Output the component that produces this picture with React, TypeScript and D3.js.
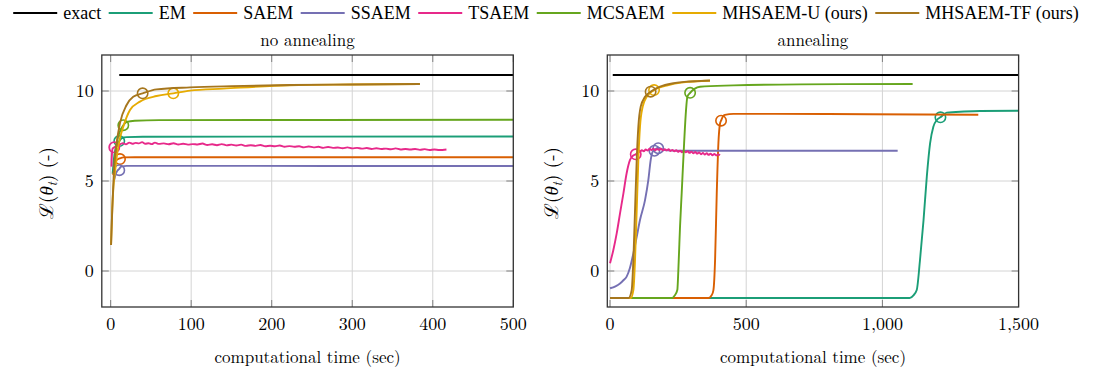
import React, { useEffect, useRef } from "react";
import * as d3 from "d3";

// ---------- series meta ----------
const seriesNames = ["exact", "EM", "SAEM", "SSAEM", "TSAEM", "MCSAEM", "MHSAEM-U (ours)", "MHSAEM-TF (ours)"];
const seriesColors = ["#000000", "#1b9e77", "#d95f02", "#7570b3", "#e7298a", "#66a61e", "#e6ab02", "#a6761d"];

const panelTitles = ["no annealing", "annealing"];
const xAxisLabel = "computational time (sec)";
const leftXTicks = [0, 100, 200, 300, 400, 500];
const rightXTicks = [0, 500, 1000, 1500];
const yTicks = [0, 5, 10];

// ---------- left panel (no annealing) ----------
const leftExact: [number, number][] = [[10.7, 10.89], [500, 10.89]];
const leftEM: [number, number][] = [[2.5, 5.4], [4, 6.2], [6, 6.8], [8, 7.05], [10.7, 7.22], [14, 7.38], [20, 7.44], [40, 7.46], [500, 7.47]];
const leftSAEM: [number, number][] = [[3.2, 5.33], [5, 5.8], [7.3, 6.15], [9.5, 6.22], [11.6, 6.26], [16, 6.31], [30, 6.32], [500, 6.32]];
const leftSSAEM: [number, number][] = [[4, 5.0], [6, 5.35], [8, 5.55], [10.7, 5.68], [13, 5.8], [20, 5.84], [500, 5.83]];
const leftTSAEM: [number, number][] = [
  [1, 5.8], [1.5, 6.4], [2.5, 6.8], [4.5, 6.87], [8, 6.98], [12, 7.05], [15, 7.1], [19, 7.04], [23, 7.13], [27, 7.07],
  [31, 7.12], [35, 7.09], [39, 7.16], [43, 7.07], [47, 7.1], [51, 7.05], [55, 7.13], [60, 7.06], [66, 7.09], [72, 7.04],
  [78, 7.1], [84, 7.03], [90, 7.07], [96, 7.02], [102, 7.05], [108, 7.03], [114, 7.08], [120, 7.0], [126, 7.04], [132, 6.99],
  [138, 7.05], [144, 6.98], [150, 7.02], [156, 6.97], [162, 7.02], [168, 6.95], [174, 6.99], [180, 6.95], [186, 7.0], [192, 6.93],
  [198, 6.96], [204, 6.93], [210, 6.97], [216, 6.9], [222, 6.94], [228, 6.9], [234, 6.93], [240, 6.87], [246, 6.92], [252, 6.87],
  [258, 6.9], [264, 6.84], [270, 6.89], [276, 6.84], [282, 6.86], [288, 6.82], [294, 6.87], [300, 6.81], [306, 6.84], [312, 6.8],
  [318, 6.83], [324, 6.78], [330, 6.82], [336, 6.78], [342, 6.8], [348, 6.76], [354, 6.81], [360, 6.75], [366, 6.78], [372, 6.75],
  [378, 6.78], [384, 6.73], [390, 6.77], [396, 6.72], [402, 6.75], [408, 6.72], [417, 6.75]
];
const leftMCSAEM: [number, number][] = [[5, 6.1], [8, 7.2], [12, 7.8], [15.7, 8.1], [20, 8.28], [30, 8.35], [60, 8.38], [500, 8.4]];
const leftMHU: [number, number][] = [
  [0.5, 1.45], [2, 3.5], [3.5, 4.7], [5.3, 5.45], [8, 6.5], [11.5, 7.37], [15.7, 8.02], [24, 8.94], [36.4, 9.41], [57, 9.72],
  [77.8, 9.87], [98.5, 10.02], [140, 10.13], [223, 10.32], [300, 10.36], [384, 10.39]
];
const leftMHTF: [number, number][] = [
  [0.5, 1.44], [1.5, 2.8], [2.5, 3.94], [4.1, 5.6], [7.4, 7.09], [11.5, 8.2], [19.8, 9.22], [28, 9.68], [39.7, 9.87], [57, 10.09],
  [98.5, 10.2], [150, 10.27], [223, 10.33], [300, 10.36], [384, 10.39]
];
const leftSeries = [leftExact, leftEM, leftSAEM, leftSSAEM, leftTSAEM, leftMCSAEM, leftMHU, leftMHTF];
// [series index, x, y]
const leftMarkers: [number, number, number][] = [
  [1, 10.7, 7.22], [2, 11.6, 6.22], [3, 10.7, 5.6], [4, 4.5, 6.87], [5, 15.7, 8.1], [6, 77.8, 9.87], [7, 39.7, 9.87]
];

// ---------- right panel (annealing) ----------
const rightExact: [number, number][] = [[10, 10.89], [1500, 10.89]];
const rightEM: [number, number][] = [
  [0, -1.5], [1100, -1.5], [1114, -1.35], [1126, -1.06], [1138, 0.61], [1151, 2.83], [1163, 5.24], [1175, 7.09], [1187, 8.02],
  [1200, 8.39], [1213, 8.54], [1236, 8.8], [1300, 8.86], [1359, 8.89], [1500, 8.9]
];
const rightSAEM: [number, number][] = [
  [0, -1.5], [362, -1.5], [373, -1.35], [379.6, -1.06], [385.7, 0.61], [391.8, 4.3], [397.9, 7.1], [404, 8.2], [407.6, 8.35],
  [415, 8.6], [422, 8.67], [453, 8.73], [800, 8.72], [1352, 8.68]
];
const rightSSAEM: [number, number][] = [
  [0, -0.96], [20, -0.85], [36.7, -0.69], [50, -0.5], [61, -0.31], [73, 0.17], [85.7, 0.98], [98, 1.9], [110, 2.83], [128.5, 3.94],
  [140.7, 5.06], [149.4, 6.17], [156.7, 6.63], [163, 6.72], [170, 6.8], [177, 6.85], [190, 6.77], [208, 6.7], [250, 6.68], [1056, 6.68]
];
const rightTSAEM: [number, number][] = [
  [0, 0.43], [12.2, 1.17], [24.5, 2.09], [36.7, 3.2], [49, 4.3], [61, 5.43], [73.4, 6.17], [84, 6.4], [94.4, 6.48], [102, 6.58],
  [110, 6.63], [117, 6.71], [124, 6.65], [131, 6.75], [138, 6.69], [145, 6.79], [152, 6.72], [159, 6.8], [166, 6.71], [173, 6.78],
  [180, 6.73], [187, 6.8], [194, 6.7], [201, 6.77], [208, 6.7], [215, 6.76], [222, 6.67], [229, 6.73], [236, 6.65], [243, 6.71],
  [250, 6.62], [257, 6.69], [264, 6.6], [271, 6.67], [278, 6.59], [285, 6.65], [292, 6.56], [299, 6.63], [306, 6.54], [313, 6.61],
  [320, 6.52], [327, 6.59], [334, 6.49], [341, 6.56], [348, 6.47], [355, 6.54], [362, 6.45], [369, 6.52], [376, 6.43], [383, 6.5],
  [390, 6.42], [397, 6.48], [404, 6.44]
];
const rightMCSAEM: [number, number][] = [
  [0, -1.5], [228, -1.5], [238, -1.35], [247, -1.06], [252, 0.5], [257, 2.46], [263, 4.3], [272, 7.1], [279, 8.94], [284, 9.68],
  [294, 9.9], [310, 10.12], [330.5, 10.24], [453, 10.31], [698, 10.37], [1111, 10.39]
];
const rightMHU: [number, number][] = [
  [0, -1.5], [76, -1.5], [85.7, -1.06], [91.8, 0.61], [98, 3.39], [104, 6.17], [110, 8.02], [120, 9.13], [134.7, 9.68],
  [161.6, 10.05], [208, 10.3], [269, 10.48], [367, 10.57]
];
const rightMHTF: [number, number][] = [
  [0, -1.5], [68, -1.5], [79.5, -1.06], [85.7, 0.61], [91.8, 3.39], [98, 6.17], [104, 8.02], [112.6, 9.13], [128.5, 9.68],
  [149, 9.96], [183.6, 10.24], [232.6, 10.43], [281.7, 10.52], [320, 10.55], [367, 10.58]
];
const rightSeries = [rightExact, rightEM, rightSAEM, rightSSAEM, rightTSAEM, rightMCSAEM, rightMHU, rightMHTF];
const rightMarkers: [number, number, number][] = [
  [1, 1213, 8.54], [2, 407.6, 8.35], [3, 163, 6.68], [3, 177, 6.82], [4, 94.4, 6.48], [5, 294, 9.9], [6, 161.6, 10.05], [7, 149, 9.96]
];

const FONT_CM = '"Latin Modern Roman", "Liberation Serif", serif';
const FONT_TIMES = '"Liberation Serif", "Latin Modern Roman", serif';

export default function App() {
  const ref = useRef<SVGSVGElement>(null);

  useEffect(() => {
    const svg = d3.select(ref.current!);
    svg.selectAll("*").remove();

    const cm = (sel: any, size = 17) => sel.style("font-family", FONT_CM).style("font-size", `${size}px`);
    const tm = (sel: any, size = 18) => sel.style("font-family", FONT_TIMES).style("font-size", `${size}px`);

    const panels = [
      { x0: 101.8, x1: 513.3, xDomain: [-11, 500], ticks: leftXTicks, series: leftSeries, markers: leftMarkers, fmt: d3.format("d"), ylabX: 53 },
      { x0: 607.3, x1: 1018.6, xDomain: [-10, 1500], ticks: rightXTicks, series: rightSeries, markers: rightMarkers, fmt: d3.format(","), ylabX: 558 },
    ];
    const yTop = 55, yBot = 307;

    panels.forEach((p, pi) => {
      const x = d3.scaleLinear().domain(p.xDomain).range([p.x0, p.x1]);
      const y = d3.scaleLinear().domain([-2, 12]).range([yBot, yTop]);
      const g = svg.append("g");

      // grid
      p.ticks.forEach((t) => {
        g.append("line").attr("x1", x(t)).attr("x2", x(t)).attr("y1", yTop).attr("y2", yBot)
          .attr("stroke", "#d4d4d4").attr("stroke-width", 1);
      });
      yTicks.forEach((t) => {
        g.append("line").attr("x1", p.x0).attr("x2", p.x1).attr("y1", y(t)).attr("y2", y(t))
          .attr("stroke", "#d4d4d4").attr("stroke-width", 1);
      });
      // tick marks (inside, mirrored)
      const tl = 7;
      p.ticks.forEach((t) => {
        g.append("line").attr("x1", x(t)).attr("x2", x(t)).attr("y1", yBot).attr("y2", yBot - tl).attr("stroke", "#808080");
        g.append("line").attr("x1", x(t)).attr("x2", x(t)).attr("y1", yTop).attr("y2", yTop + tl).attr("stroke", "#808080");
      });
      yTicks.forEach((t) => {
        g.append("line").attr("x1", p.x0).attr("x2", p.x0 + tl).attr("y1", y(t)).attr("y2", y(t)).attr("stroke", "#808080");
        g.append("line").attr("x1", p.x1).attr("x2", p.x1 - tl).attr("y1", y(t)).attr("y2", y(t)).attr("stroke", "#808080");
      });

      // series
      const line = d3.line<[number, number]>().x((d) => x(d[0])).y((d) => y(d[1])).curve(d3.curveMonotoneX);
      p.series.forEach((s, si) => {
        g.append("path").attr("d", line(s) as string).attr("fill", "none")
          .attr("stroke", seriesColors[si]).attr("stroke-width", si === 0 ? 2.2 : 1.9)
          .attr("stroke-linejoin", "round").attr("stroke-linecap", "butt");
        p.markers.filter((m) => m[0] === si).forEach((m) => {
          g.append("circle").attr("cx", x(m[1])).attr("cy", y(m[2])).attr("r", 5.2)
            .attr("fill", "none").attr("stroke", seriesColors[si]).attr("stroke-width", 1.6);
        });
      });

      // frame
      g.append("rect").attr("x", p.x0).attr("y", yTop).attr("width", p.x1 - p.x0).attr("height", yBot - yTop)
        .attr("fill", "none").attr("stroke", "#333").attr("stroke-width", 1.3);

      // tick labels
      p.ticks.forEach((t) => {
        cm(g.append("text").attr("x", x(t)).attr("y", 330).attr("text-anchor", "middle"), 18).text(p.fmt(t));
      });
      yTicks.forEach((t) => {
        cm(g.append("text").attr("x", p.x0 - 8).attr("y", y(t) + 6).attr("text-anchor", "end"), 18).text(String(t));
      });

      // titles & axis labels
      const cx = (p.x0 + p.x1) / 2;
      cm(g.append("text").attr("x", cx).attr("y", 46).attr("text-anchor", "middle")).text(panelTitles[pi]);
      cm(g.append("text").attr("x", cx).attr("y", 363).attr("text-anchor", "middle")).text(xAxisLabel);

      const yl = cm(g.append("text").attr("transform", `translate(${p.ylabX},183) rotate(-90)`)
        .attr("text-anchor", "middle"), 19);
      yl.append("tspan").text("ℒ(");
      yl.append("tspan").style("font-style", "italic").text("θ");
      yl.append("tspan").style("font-style", "italic").style("font-size", "13px").attr("dy", 4).text("t");
      yl.append("tspan").attr("dy", -4).text(") (-)");
    });

    // legend
    const lg = svg.append("g");
    const items: { g: any; w: number }[] = [];
    seriesNames.forEach((n, i) => {
      const ig = lg.append("g");
      ig.append("line").attr("x1", 0).attr("x2", 44).attr("y1", 13).attr("y2", 13)
        .attr("stroke", seriesColors[i]).attr("stroke-width", 2);
      const t = tm(ig.append("text").attr("x", 50).attr("y", 18.5)).text(n);
      const w = 50 + (t.node() as SVGTextElement).getComputedTextLength();
      items.push({ g: ig, w });
    });
    const gap = 7.5;
    const total = items.reduce((a, b) => a + b.w, 0) + gap * (items.length - 1);
    let cur = 546 - total / 2;
    items.forEach((it) => {
      it.g.attr("transform", `translate(${cur},0)`);
      cur += it.w + gap;
    });
  }, []);

  return (
    <svg ref={ref} width={1095} height={370}
      style={{ position: "absolute", left: 0, top: 0, background: "#fff" }} />
  );
}
